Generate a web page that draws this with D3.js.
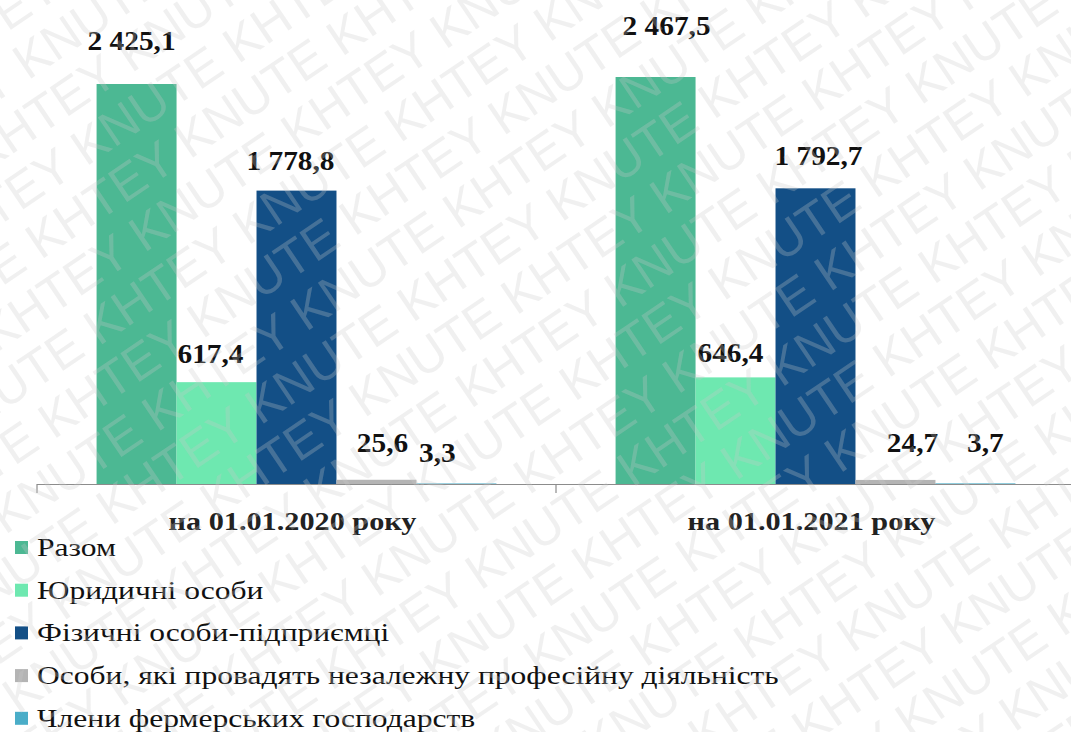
<!DOCTYPE html>
<html><head><meta charset="utf-8">
<script src="https://cdn.jsdelivr.net/npm/d3@7"></script>
<style>
html,body{margin:0;padding:0;background:#fff;}
svg{display:block;}
</style></head>
<body>
<svg id="chart" width="1071" height="732"></svg>
<script>
// ---- data ----
const categories = ["на 01.01.2020 року", "на 01.01.2021 року"];
const seriesNames = ["Разом", "Юридичні особи", "Фізичні особи-підприємці", "Особи, які провадять незалежну професійну діяльність", "Члени фермерських господарств"];
const values2020 = [2425.1, 617.4, 1778.8, 25.6, 3.3];
const values2021 = [2467.5, 646.4, 1792.7, 24.7, 3.7];
const valueLabels2020 = ["2 425,1", "617,4", "1 778,8", "25,6", "3,3"];
const valueLabels2021 = ["2 467,5", "646,4", "1 792,7", "24,7", "3,7"];

// ---- styles / layout ----
const SERIF = "'Liberation Serif','Tinos','Times New Roman','DejaVu Serif',serif";
const colors = ["#4cb893", "#6ee8b0", "#134f86", "#b4b4b4", "#4aadc8"];
// label nudges [dx, gap above bar top] per category, per series
const labelNudge = [
  [[-5, 34], [-6, 19], [-6, 21], [6, 28], [-19, 21]],
  [[11, 42], [-5, 15], [3, 23], [17, 28], [10, 31]]
];
const baseY = 484;
const svg = d3.select("#chart");

// horizontally fit a selection of texts so that the reference text gets the target width
function fitWidth(sel, refNode, target) {
  const w = refNode.getComputedTextLength();
  const f = target / w;
  sel.each(function() {
    const t = d3.select(this);
    const x = +t.attr("x"), yy = +t.attr("y");
    t.attr("x", 0).attr("y", 0).attr("transform", `translate(${x},${yy}) scale(${f},1)`);
  });
}

const table = categories.map((c, i) => ({
  cat: c,
  vals: (i === 0 ? values2020 : values2021),
  labels: (i === 0 ? valueLabels2020 : valueLabels2021)
}));

const x0 = d3.scaleBand().domain(categories).range([37, 1075]).paddingInner(0).paddingOuter(0);
const x1 = d3.scaleBand().domain(seriesNames).range([0, x0.bandwidth()]).paddingInner(0).paddingOuter(0.745);
const y = d3.scaleLinear().domain([0, 2600]).range([baseY, baseY - 2600 * 0.16494]);

const groups = svg.append("g").selectAll("g").data(table).join("g")
  .attr("transform", d => `translate(${x0(d.cat)},0)`);

groups.selectAll("rect").data(d => d.vals.map((v, k) => ({v, k})))
  .join("rect")
  .attr("x", d => x1(seriesNames[d.k]))
  .attr("width", x1.bandwidth())
  .attr("y", d => y(d.v))
  .attr("height", d => baseY - y(d.v))
  .attr("fill", d => colors[d.k]);

// axis
const axisG = svg.append("g").attr("transform", `translate(0,${baseY})`);
axisG.append("line").attr("x1", 37).attr("x2", 1075).attr("y1", 0.5).attr("y2", 0.5)
  .attr("stroke", "#8c8c8c").attr("stroke-width", 1.2);
const bounds = categories.map(c => x0(c)).concat([x0(categories[categories.length - 1]) + x0.bandwidth()]);
axisG.selectAll("line.tick").data(bounds).join("line").attr("class", "tick")
  .attr("x1", d => d).attr("x2", d => d).attr("y1", 0).attr("y2", 9)
  .attr("stroke", "#8c8c8c").attr("stroke-width", 1.2);
const catText = axisG.selectAll("text.cat").data(categories).join("text").attr("class", "cat")
  .attr("x", d => x0(d) + x0.bandwidth() / 2 - 4)
  .attr("y", 46)
  .attr("text-anchor", "middle")
  .style("font-family", SERIF)
  .attr("font-weight", "bold")
  .attr("font-size", 25)
  .attr("fill", "#222")
  .text(d => d);
fitWidth(catText, catText.node(), 248);

// value labels
groups.each(function(d, i) {
  d3.select(this).selectAll("text.val").data(d.vals.map((v, k) => ({v, k, t: d.labels[k]})))
    .join("text").attr("class", "val")
    .attr("x", e => x1(seriesNames[e.k]) + x1.bandwidth() / 2 + labelNudge[i][e.k][0])
    .attr("y", e => y(e.v) - labelNudge[i][e.k][1])
    .attr("text-anchor", "middle")
    .style("font-family", SERIF)
    .attr("font-weight", "bold")
    .attr("font-size", 27)
    .attr("fill", "#111")
    .text(e => e.t);
});
const allVals = svg.selectAll("text.val");
fitWidth(allVals, allVals.node(), 88);

// legend
const leg = svg.append("g").selectAll("g").data(seriesNames).join("g")
  .attr("transform", (d, i) => `translate(0,${556 + i * 42.7})`);
leg.append("rect").attr("x", 15).attr("y", -15).attr("width", 13).attr("height", 13)
  .attr("fill", (d, i) => colors[i]);
const legText = leg.append("text").attr("class", "leg").attr("x", 37).attr("y", 0)
  .style("font-family", SERIF)
  .attr("font-size", 25).attr("fill", "#111")
  .text(d => d);
fitWidth(legText, legText.nodes()[3], 742);

// watermark overlay
const wm = svg.append("g").attr("transform", "translate(535,366) rotate(-34)")
  .attr("pointer-events", "none");
const wmLine = "KNUTE KHTEY KNUTE KHTEY KNUTE KHTEY KNUTE KHTEY KNUTE KHTEY KNUTE KHTEY KNUTE KHTEY";
const wmRows = d3.range(-14, 15);
wm.selectAll("text").data(wmRows).join("text")
  .attr("x", d => -1350 + (Math.abs(d) % 2 === 0 ? 0 : 90))
  .attr("y", d => d * 52)
  .attr("font-family", "'Liberation Sans',Arial,sans-serif")
  .attr("font-size", 50)
  .attr("fill", "#c8c8c8")
  .attr("fill-opacity", 0.28)
  .text(wmLine);
</script>
</body></html>
